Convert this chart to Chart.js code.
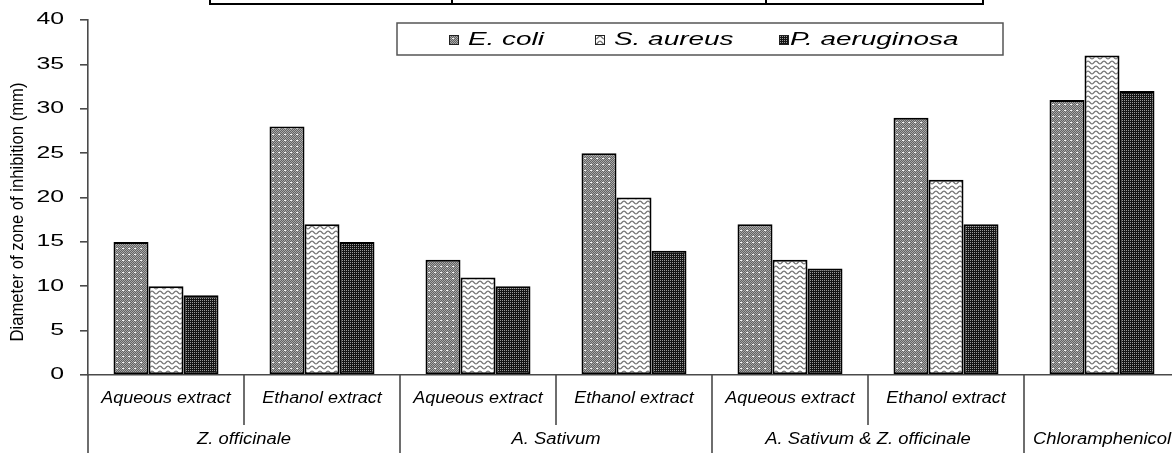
<!DOCTYPE html>
<html>
<head>
<meta charset="utf-8">
<script src="https://cdn.jsdelivr.net/npm/chart.js@4.4.1/dist/chart.umd.min.js"></script>
<style>
  html, body { margin: 0; padding: 0; background: #fff; overflow: hidden; }
  #wrap { width: 1172px; height: 453px; overflow: hidden; position: relative; }
  canvas { display: block; }
</style>
</head>
<body>
<div id="wrap"><canvas id="c" width="1200" height="453" style="width:1200px;height:453px"></canvas></div>
<script>
// ---- data ----
const categories = ['Aqueous extract', 'Ethanol extract', 'Aqueous extract', 'Ethanol extract', 'Aqueous extract', 'Ethanol extract', ''];
const groups = ['Z. officinale', 'A. Sativum', 'A. Sativum & Z. officinale', 'Chloramphenicol'];
const groupSpans = [2, 2, 2, 1];
const seriesNames = ['E. coli', 'S. aureus', 'P. aeruginosa'];
const ecoli = [15, 28, 13, 25, 17, 29, 31];
const saureus = [10, 17, 11, 20, 13, 22, 36];
const paeruginosa = [9, 15, 10, 14, 12, 17, 32];
const yMin = 0, yMax = 40, yStep = 5;
const yTitle = 'Diameter of zone of inhibition (mm)';

// ---- patterns ----
const canvas = document.getElementById('c');
const ctx = canvas.getContext('2d');
function makePattern(w, h, draw) {
  const c = document.createElement('canvas');
  c.width = w; c.height = h;
  const g = c.getContext('2d');
  draw(g, w, h);
  return ctx.createPattern(c, 'repeat');
}
const patEcoli = makePattern(6, 6, (g, w, h) => {
  for (let y = 0; y < h; y++) for (let x = 0; x < w; x++) {
    g.fillStyle = ((x + y) % 2) ? '#626262' : '#a8a8a8';
    g.fillRect(x, y, 1, 1);
  }
  g.fillStyle = '#f6f6f6';
  g.fillRect(2, 2, 2, 1);
});
const patSaureus = makePattern(8, 5, (g, w, h) => {
  g.fillStyle = '#ffffff'; g.fillRect(0, 0, w, h);
  g.strokeStyle = '#707070'; g.lineWidth = 1.2;
  g.beginPath();
  for (let x = -1; x <= 9; x += 0.5) {
    const y = 2.5 - 1.4 * Math.cos(2 * Math.PI * x / 8);
    if (x === -1) g.moveTo(x, y); else g.lineTo(x, y);
  }
  g.stroke();
});
const patPaer = makePattern(2, 2, (g, w, h) => {
  g.fillStyle = '#141414'; g.fillRect(0, 0, w, h);
  g.fillStyle = '#9a9a9a';
  g.fillRect(0, 0, 1, 1);
});
const patterns = [patEcoli, patSaureus, patPaer];

// ---- text helper ----
const FONT = '"Liberation Sans", Arial, sans-serif';
function txt(c, s, x, y, size, italic, sx, align) {
  c.save();
  c.font = (italic ? 'italic ' : '') + size + 'px ' + FONT;
  c.fillStyle = '#000';
  c.translate(x, y);
  c.scale(sx, 1);
  c.textAlign = align || 'center';
  c.textBaseline = 'middle';
  c.fillText(s, 0, 0);
  c.restore();
}

const decor = {
  id: 'decor',
  afterDraw(chart) {
    const c = chart.ctx;
    const xs = chart.scales.x, ys = chart.scales.y;
    const area = chart.chartArea;
    // y tick labels
    ys.ticks.forEach(t => {
      const py = ys.getPixelForValue(t.value);
      txt(c, String(t.value), 64, py, 16, false, 1.55, 'right');
    });
    // y title
    c.save();
    c.font = '13px ' + FONT;
    const w = c.measureText(yTitle).width;
    c.translate(18, 212);
    c.rotate(-Math.PI / 2);
    c.scale(259 / w, 1.35);
    c.fillStyle = '#000';
    c.textAlign = 'center';
    c.textBaseline = 'middle';
    c.fillText(yTitle, 0, 0);
    c.restore();

    // category geometry
    const catW = xs.getPixelForValue(1) - xs.getPixelForValue(0);
    const left = i => xs.getPixelForValue(i) - catW / 2;
    const bottom = area.bottom;

    c.save();
    c.strokeStyle = '#4a4a4a';
    c.lineWidth = 1.6;
    let idx = 0;
    const longB = [0], shortB = [];
    groupSpans.forEach(sp => {
      for (let k = 1; k < sp; k++) shortB.push(idx + k);
      idx += sp;
      longB.push(idx);
    });
    longB.forEach(i => {
      const px = left(i);
      c.beginPath(); c.moveTo(px, bottom); c.lineTo(px, 453); c.stroke();
    });
    shortB.forEach(i => {
      const px = left(i);
      c.beginPath(); c.moveTo(px, bottom); c.lineTo(px, 425); c.stroke();
    });
    c.restore();

    // sub labels
    categories.forEach((lab, i) => {
      if (lab) txt(c, lab, xs.getPixelForValue(i), 399, 16, true, 1.12, 'center');
    });
    // group labels
    idx = 0;
    groups.forEach((g, gi) => {
      const sp = groupSpans[gi];
      const cx = (left(idx) + left(idx + sp)) / 2;
      txt(c, g, cx, 440, 16, true, 1.15, 'center');
      idx += sp;
    });

    // legend
    c.save();
    c.fillStyle = '#fff';
    c.fillRect(397, 23, 606, 32);
    c.strokeStyle = '#555';
    c.lineWidth = 1.5;
    c.strokeRect(397, 23, 606, 32);
    const sw = [449, 595, 779];
    const tx = [468, 614, 790];
    seriesNames.forEach((nm, i) => {
      c.fillStyle = patterns[i];
      c.fillRect(sw[i], 35, 10, 10);
      c.strokeStyle = '#222'; c.lineWidth = 1;
      c.strokeRect(sw[i] + 0.5, 35.5, 9, 9);
      txt(c, nm, tx[i], 40, 18, true, 1.55, 'left');
    });
    c.restore();

    // top table fragment
    c.save();
    c.strokeStyle = '#000';
    c.lineWidth = 2;
    c.beginPath();
    c.moveTo(210, 0); c.lineTo(210, 4); c.lineTo(983, 4); c.lineTo(983, 0);
    c.moveTo(452, 0); c.lineTo(452, 4);
    c.moveTo(766, 0); c.lineTo(766, 4);
    c.stroke();
    c.restore();
  }
};

new Chart(ctx, {
  type: 'bar',
  data: {
    labels: categories,
    datasets: [
      { label: seriesNames[0], data: ecoli, backgroundColor: patEcoli },
      { label: seriesNames[1], data: saureus, backgroundColor: patSaureus },
      { label: seriesNames[2], data: paeruginosa, backgroundColor: patPaer }
    ]
  },
  options: {
    responsive: false,
    animation: false,
    devicePixelRatio: 1,
    layout: { padding: { top: 20, right: 20, left: 0, bottom: 0 } },
    datasets: {
      bar: {
        categoryPercentage: 0.673,
        barPercentage: 1.0,
        borderColor: '#000',
        borderWidth: 2,
        borderSkipped: false
      }
    },
    plugins: { legend: { display: false }, tooltip: { enabled: false } },
    scales: {
      x: {
        grid: { display: false },
        border: { display: true, color: '#4a4a4a', width: 1.6 },
        ticks: { display: false },
        afterFit(s) { s.height = 78; }
      },
      y: {
        min: yMin, max: yMax,
        ticks: { display: false, stepSize: yStep },
        grid: { display: true, drawOnChartArea: false, drawTicks: true, tickLength: 8, color: '#4a4a4a', lineWidth: 1.6 },
        border: { display: true, color: '#4a4a4a', width: 1.6 },
        afterFit(s) { s.width = 88; }
      }
    }
  },
  plugins: [decor]
});
</script>
</body>
</html>
